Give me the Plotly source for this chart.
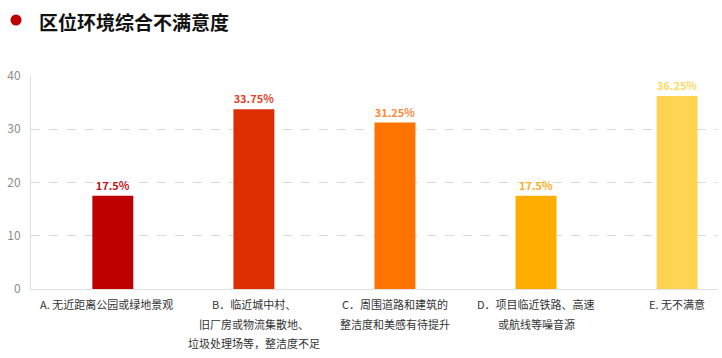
import plotly.graph_objects as go

categories = ["A", "B", "C", "D", "E"]
values = [17.5, 33.75, 31.25, 17.5, 36.25]
value_labels = ["17.5%", "33.75%", "31.25%", "17.5%", "36.25%"]
tick_labels = [
    "A. 无近距离公园或绿地景观",
    "B．临近城中村、<br>旧厂房或物流集散地、<br>垃圾处理场等，整洁度不足",
    "C．周围道路和建筑的<br>整洁度和美感有待提升",
    "D．项目临近铁路、高速<br>或航线等噪音源",
    "E. 无不满意",
]
bar_colors = ["#BE0000", "#DC2E00", "#FF7300", "#FFAD00", "#FFD452"]
label_colors = ["#C0141A", "#E2432A", "#FF8A3A", "#FFAE1E", "#FFD964"]
title = "区位环境综合不满意度"

FONT = "Noto Sans CJK SC, Microsoft YaHei, sans-serif"

fig = go.Figure()
fig.add_trace(go.Bar(
    x=list(range(len(categories))),
    y=values,
    width=0.29,
    marker=dict(color=bar_colors, line=dict(width=0)),
    text=["<b>" + t + "</b>" for t in value_labels],
    textposition="outside",
    textfont=dict(family=FONT, size=11, color=label_colors),
    cliponaxis=False,
    hoverinfo="skip",
))

W, H = 722, 358
L, R, T, B = 31, 4, 76, 69
pw, ph = W - L - R, H - T - B

def px_x(px):
    return (px - L) / pw

def px_y(py):
    return (H - B - py) / ph

annotations = []
for i, lab in enumerate(tick_labels):
    for j, line in enumerate(lab.split("<br>")):
        annotations.append(dict(
            x=i, xref="x", y=0, yref="paper",
            text=line, showarrow=False,
            xanchor="center", yanchor="top",
            xshift=-6 if i == 0 else 0,
            yshift=-(5 + j * 19.5),
            font=dict(family=FONT, size=11, color="#333333"),
        ))

annotations.append(dict(
    x=px_x(37), xref="paper", y=px_y(21), yref="paper",
    text="<b>" + title + "</b>", showarrow=False,
    xanchor="left", yanchor="middle",
    font=dict(family=FONT, size=19, color="#111111"),
))

fig.update_layout(
    width=W, height=H,
    margin=dict(l=L, r=R, t=T, b=B, autoexpand=False),
    paper_bgcolor="white", plot_bgcolor="white",
    showlegend=False,
    font=dict(family=FONT),
    xaxis=dict(
        range=[-0.58, 4.29],
        showticklabels=False,
        showgrid=False, zeroline=False,
        showline=True, linecolor="#E0E0E0", linewidth=1,
        ticks="", automargin=False,
    ),
    yaxis=dict(
        range=[0, 40], dtick=10,
        showgrid=True, gridcolor="#D9D9D9", griddash="dash", gridwidth=1,
        zeroline=False,
        showline=True, linecolor="#E0E0E0", linewidth=1,
        tickfont=dict(family=FONT, size=12, color="#8C8C8C"),
        ticks="", ticklabelstandoff=7, automargin=False,
    ),
    annotations=annotations,
    shapes=[dict(
        type="circle", xref="paper", yref="paper",
        xsizemode="pixel", ysizemode="pixel",
        xanchor=px_x(16), yanchor=px_y(20),
        x0=-5.5, x1=5.5, y0=-5.5, y1=5.5,
        fillcolor="#C00000", line=dict(width=0),
    )],
)

fig.write_html(
    "out.html",
    config={"displayModeBar": False},
    post_script="document.body.style.margin='0';document.body.style.overflow='hidden';",
)
